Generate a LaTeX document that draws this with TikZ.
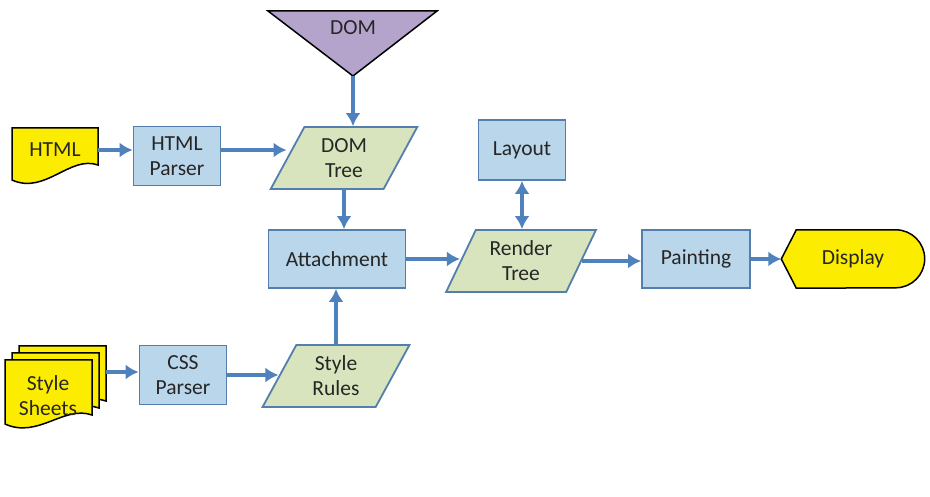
\documentclass[tikz,border=0pt]{standalone}
\usepackage{fontspec}
\setmainfont{Carlito}
\usetikzlibrary{shapes.geometric, arrows.meta}

\definecolor{flowblue}{RGB}{79,129,189}
\definecolor{boxfill}{RGB}{185,214,235}
\definecolor{boxline}{RGB}{84,126,172}
\definecolor{datafill}{RGB}{215,228,189}
\definecolor{docyellow}{RGB}{252,236,0}
\definecolor{dompurple}{RGB}{180,164,204}

\begin{document}
\begin{tikzpicture}[x=1pt, y=1pt,
	every node/.style={font=\fontsize{21.5}{25}\selectfont, text=black!85, align=center},
	proc/.style={draw=boxline, line width=1.8pt, fill=boxfill, minimum width=87pt, minimum height=59pt},
	data/.style={trapezium, trapezium left angle=64, trapezium right angle=116, trapezium stretches=true,
		draw=boxline, line width=1.8pt, fill=datafill, minimum width=148pt, minimum height=62pt},
	docline/.style={draw=black, line width=1.5pt, fill=docyellow},
	tip/.tip={Latex[length=13pt, width=15pt]},
	flow/.style={flowblue, line width=4pt, -tip}]
	\useasboundingbox (0,0) rectangle (930,496);

	\draw[docline] (12,368) -- (98,368) -- (98,331) .. controls (70,341) and (45,301) .. (12,316) -- cycle;
	\node (html) at (55,346) [minimum width=86pt] {HTML};
	\node (hparser) at (177,340) [proc] {HTML\\Parser};

	\draw[docline, fill=dompurple] (268,485) -- (437,485) -- (353,420) -- cycle;
	\node (dom) at (353,468) {DOM};
	\coordinate (domtip) at (353,420);
	\node (domtree) at (344,338) [data] {DOM\\Tree};

	\node (attach) at (337,237) [proc, minimum width=137pt, minimum height=58pt] {Attachment};

	\foreach \s in {14,7,0}
		\draw[docline, shift={(\s,\s)}] (5,136) -- (92,136) -- (92,81) .. controls (64,91) and (38,57) .. (5,72) -- cycle;
	\node (sheets) at (48,100) {Style\\Sheets};
	\coordinate (sheetsout) at (106,124);
	\node (cssparser) at (183,121) [proc] {CSS\\Parser};
	\node (stylerules) at (336,120) [data] {Style\\Rules};

	\node (layout) at (522,346) [proc, minimum height=60pt] {Layout};
	\node (rendertree) at (521,235) [data, minimum width=150pt] {Render\\Tree};
	\node (painting) at (696,237) [proc, minimum width=108pt, minimum height=58pt] {Painting};
	\node (display) at (853,237) [minimum width=143pt, minimum height=58pt] {};
	\draw[docline] (display.west) -- ([xshift=15pt]display.north west) -- ([xshift=-29pt]display.north east)
		arc[start angle=90, end angle=-90, radius=29] -- ([xshift=15pt]display.south west) -- cycle;
	\node at (display) {Display};

	\draw[flow] (html) -- (html -| hparser.west);
	\draw[flow] (html -| hparser.east) -- (html -| domtree.west);
	\draw[flow] (domtip) -- (domtip |- domtree.north);
	\draw[flow] (domtree.south) -- (domtree.south |- attach.north);
	\draw[flow] (stylerules.north) -- (stylerules.north |- attach.south);
	\draw[flow] (sheetsout) -- (sheetsout -| cssparser.west);
	\draw[flow] (cssparser) -- (cssparser -| stylerules.west);
	\draw[flow] (attach) -- (attach -| rendertree.west);
	\draw[flow, tip-tip] (layout.south) -- (layout.south |- rendertree.north);
	\draw[flow] (rendertree.east) -- (rendertree.east -| painting.west);
	\draw[flow] (painting) -- (display);
\end{tikzpicture}
\end{document}
